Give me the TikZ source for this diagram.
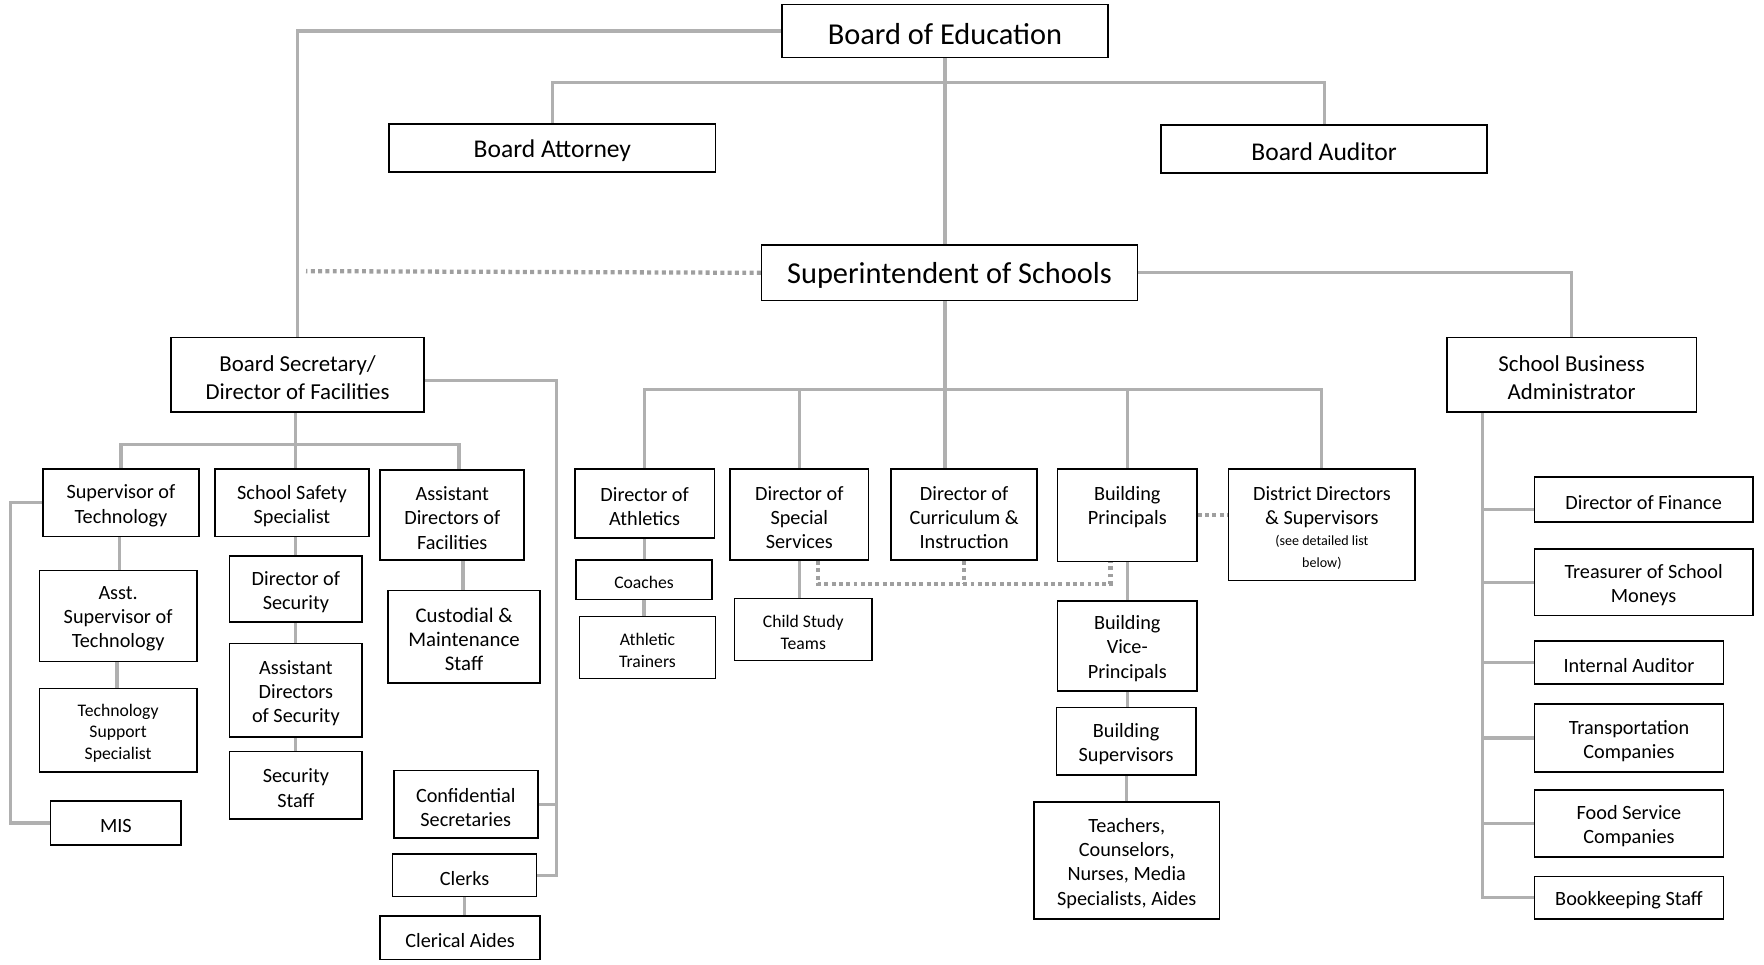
\documentclass[tikz,border=0pt]{standalone}
\usepackage{fontspec}
\setmainfont{Carlito}
\usetikzlibrary{backgrounds}
\newcommand{\obox}[7][]{%
  \node[box,minimum width={#5-#3},minimum height={#6-#4}] (#2) at ({(#3+#5)/2},{(#4+#6)/2}) {};
  \node[boxtext,#1] (#2-t) at ({(#3+#5)/2},{(#4+#6)/2+2.5}) {#7};}
\begin{document}
\begin{tikzpicture}[x=1pt,y=-1pt,
  box/.style={draw=black,line width=1.4pt,fill=white,inner sep=0pt},
  boxtext/.style={inner sep=0pt,align=center,font=\fD},
  fA/.style={font=\fontsize{27}{31}\selectfont},
  fB/.style={font=\fontsize{22.7}{27}\selectfont},
  fC/.style={font=\fontsize{20.3}{24.5}\selectfont},
  fE/.style={font=\fontsize{15.7}{19}\selectfont},
  fG/.style={font=\fontsize{18.5}{21.5}\selectfont},
  conn/.style={draw=gray!62,line width=2.8pt},
  dotl/.style={draw=gray!75,line width=3.8pt,dash pattern=on 3.5pt off 3pt}]
\def\fD{\fontsize{18}{21.5}\selectfont}
\def\fS{\fontsize{12.5}{15}\selectfont}
\useasboundingbox (0,0) rectangle (1568,857);
% boxes
\obox[fA]{boe}{695}{4}{985}{51}{Board of Education}
\obox[fB]{att}{346}{110}{636}{153}{Board Attorney}
\obox[fB]{aud}{1032}{111}{1322}{154}{Board Auditor}
\obox[fA]{sup}{677}{218}{1011}{267}{Superintendent of Schools}
\obox[fC]{bsec}{152}{300}{377}{366}{Board Secretary/\\Director of Facilities}
\obox[fC]{sba}{1286}{300}{1508}{366}{School Business\\Administrator}
\obox{sot}{38}{417}{177}{477}{Supervisor of\\Technology}
\obox{sss}{191}{417}{328}{477}{School Safety\\Specialist}
\obox{adf}{338}{418}{466}{498}{Assistant\\Directors of\\Facilities}
\obox{asot}{35}{507}{175}{588}{Asst.\\Supervisor of\\Technology}
\obox[fE]{tss}{35}{612}{175}{686}{Technology\\Support\\Specialist}
\obox{mis}{45}{712}{161}{751}{MIS}
\obox{dsec}{204}{494}{322}{553}{Director of\\Security}
\obox{adsec}{204}{572}{322}{655}{Assistant\\Directors\\of Security}
\obox{secst}{204}{668}{322}{728}{Security\\Staff}
\obox[fG]{cust}{345}{525}{480}{607}{Custodial \&\\Maintenance\\Staff}
\obox{conf}{350}{685}{478}{745}{Confidential\\Secretaries}
\obox{clerks}{349}{759}{477}{797}{Clerks}
\obox{claides}{338}{814}{480}{853}{Clerical Aides}
\obox{ath}{511}{417}{635}{478}{Director of\\Athletics}
\obox[fE]{coach}{512}{498}{633}{533}{Coaches}
\obox[fE]{trn}{515}{548}{636}{603}{Athletic\\Trainers}
\obox{ss}{649}{417}{772}{498}{Director of\\Special\\Services}
\obox[fE]{cst}{653}{532}{775}{587}{Child Study\\Teams}
\obox{cur}{792}{417}{922}{498}{Director of\\Curriculum \&\\Instruction}
\obox{bp}{940}{417}{1064}{499}{Building\\Principals\\[1pt]\mbox{}}
\obox{dd}{1092}{417}{1258}{516}{District Directors\\\& Supervisors\\[-3pt]{\fS (see detailed list}\\[-2pt]{\fS below)}}
\obox{bvp}{940}{534}{1064}{614}{Building\\Vice-\\Principals}
\obox{bs}{939}{629}{1063}{689}{Building\\Supervisors}
\obox{tch}{919}{713}{1084}{817}{Teachers,\\Counselors,\\Nurses, Media\\Specialists, Aides}
\obox{fin}{1364}{424}{1558}{464}{Director of Finance}
\obox{tre}{1364}{488}{1558}{547}{Treasurer of School\\Moneys}
\obox{ia}{1364}{570}{1532}{608}{Internal Auditor}
\obox{tra}{1364}{626}{1532}{686}{Transportation\\Companies}
\obox{food}{1364}{702}{1532}{762}{Food Service\\Companies}
\obox{book}{1364}{779}{1532}{817}{Bookkeeping Staff}
% coordinates
\coordinate (bus1) at (840,73);
\coordinate (sbus) at (840,346);
\coordinate (fbus) at (263,395);
\coordinate (rt) at (495,338);
\coordinate (dl) at (727,519);
\coordinate (dr) at (987,519);
\coordinate (dotend) at (272,241);
\coordinate (sv) at (1318,800);
\begin{pgfonlayer}{background}
% top level
\draw[conn] (boe.west) -| (bsec.north);
\draw[conn] (bus1 |- boe.south) -- (bus1 |- sup.north);
\draw[conn] (att.north) |- (bus1) -| (aud.north);
\draw[dotl] (sup.west) -- (dotend);
\draw[conn] (sup.east) -| (sba.north);
\draw[conn] (sbus |- sup.south) -- (sbus |- cur.north);
\draw[conn] (ath.north) |- (sbus) -| (dd.north);
\draw[conn] (ss.north) -- (ss.north |- sbus);
\draw[conn] (bp.north) -- (bp.north |- sbus);
% board secretary branch
\draw[conn] (bsec.south -| fbus) -- (fbus);
\draw[conn] (sot.north) |- (fbus) -| ([xshift=6pt]adf.north);
\draw[conn] (fbus) -- (fbus |- sss.north);
\draw[conn] ([xshift=-1pt]sot.south) -- ([xshift=-1pt]sot.south |- asot.north);
\draw[conn] ([xshift=-1pt]asot.south) -- ([xshift=-1pt]asot.south |- tss.north);
\draw[conn] (sot.west) -- ++(-28,0) |- (mis.west);
\draw[conn] (dsec.north |- sss.south) -- (dsec.north);
\draw[conn] (dsec.south) -- (adsec.north);
\draw[conn] (adsec.south) -- (secst.north);
\draw[conn] ([xshift=-1pt]cust.north |- adf.south) -- ([xshift=-1pt]cust.north);
\draw[conn] ([yshift=-5pt]bsec.east) -- ([yshift=-5pt]bsec.east -| rt) -- (rt |- clerks.east) -- (clerks.east);
\draw[conn] (conf.east) -- (conf.east -| rt);
\draw[conn] (clerks.south) -- (clerks.south |- claides.north);
% superintendent branch
\draw[conn] (ath.south) -- (ath.south |- coach.north);
\draw[conn] (coach.south) -- (coach.south |- trn.north);
\draw[conn] (ss.south) -- (ss.south |- cst.north);
\draw[dotl] (dl |- ss.south) -- (dl) -- (dr) -- (dr |- bp.south);
\draw[dotl] (cur.south) -- (cur.south |- dl);
\draw[dotl] (bp.east) -- (bp.east -| dd.west);
\draw[conn] (bp.south) -- (bp.south |- bvp.north);
\draw[conn] (bvp.south) -- (bvp.south |- bs.north);
\draw[conn] (bs.south) -- (bs.south |- tch.north);
% business administrator branch
\draw[conn] (sv |- sba.south) |- (book.west);
\draw[conn] ([yshift=-9pt]fin.west) -- ([yshift=-9pt]fin.west -| sv);
\draw[conn] (tre.west) -- (tre.west -| sv);
\draw[conn] (ia.west) -- (ia.west -| sv);
\draw[conn] (tra.west) -- (tra.west -| sv);
\draw[conn] (food.west) -- (food.west -| sv);
\end{pgfonlayer}
\end{tikzpicture}
\end{document}
